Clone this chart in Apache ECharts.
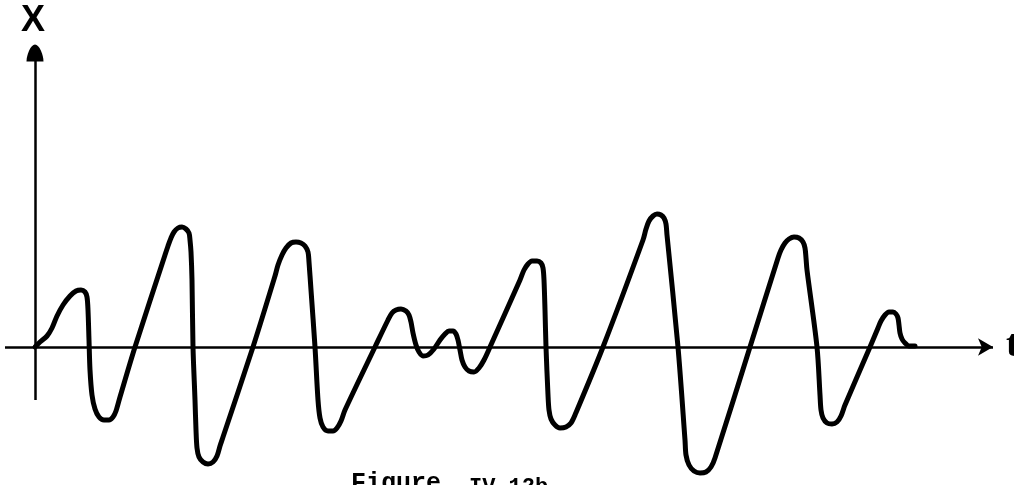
<!DOCTYPE html>
<html>
<head>
<meta charset="utf-8">
<script src="https://cdn.jsdelivr.net/npm/echarts@6/dist/echarts.min.js"></script>
<style>html,body{margin:0;padding:0;background:#fff;}#c{width:1014px;height:485px;}</style>
</head>
<body>
<div id="c"></div>
<script>
// time values (t) and signal values (x)
const tVals = [0,0.5,1.2,1.7,2.2,2.8,3.5,4.1,4.6,5.0,5.2,5.3,5.4,5.5,5.7,6.0,6.4,6.9,7.4,7.8,8.1,8.5,10.0,
  13.0,13.3,13.6,13.9,14.3,14.7,15.1,15.4,15.5,15.6,15.7,15.8,16.0,16.1,16.2,16.4,16.8,17.3,17.8,18.2,18.5,18.8,21.8,24.0,
  24.3,24.7,25.1,25.6,26.1,26.6,27.0,27.3,27.4,27.6,28.0,28.3,28.5,28.8,29.3,29.8,30.2,30.6,31.0,34.0,
  35.3,35.7,36.1,36.6,37.1,37.4,37.6,37.8,38.1,38.4,38.8,39.3,39.9,40.5,41.0,41.4,41.8,42.1,42.3,42.5,42.7,43.0,43.4,43.9,44.4,44.9,45.5,
  48.5,48.9,49.3,49.7,50.2,50.6,50.8,50.9,51.0,51.1,51.3,51.4,51.6,52.0,52.5,53.1,53.6,54.0,56.8,
  60.8,61.1,61.4,61.8,62.2,62.6,62.9,63.1,63.2,64.3,65.0,65.1,65.4,65.9,66.5,67.1,67.6,68.0,71.5,
  74.3,74.6,75.0,75.4,75.9,76.4,76.8,77.0,77.1,77.2,78.2,78.5,78.6,78.8,79.2,79.7,80.2,80.6,81.0,83.5,
  84.3,84.6,85.0,85.4,85.8,86.1,86.3,86.4,86.5,86.7,87.0,87.4,88.0];
const xVals = [0,0.5,1.1,1.9,3.1,4.2,5.1,5.6,5.7,5.5,5.0,3.7,0.7,-2.3,-4.8,-6.2,-7.0,-7.3,-7.3,-7.0,-6.4,-5.0,0,
  9.2,10.1,10.9,11.5,11.9,12.0,11.8,11.4,10.7,9.5,6.7,0,-5.3,-8.3,-10.1,-11.0,-11.5,-11.7,-11.5,-10.9,-9.9,-9.0,0,7.1,
  8.2,9.2,9.9,10.4,10.5,10.4,10.1,9.5,8.5,5.7,0,-5.3,-7.1,-8.0,-8.4,-8.4,-8.1,-7.4,-6.3,0,
  2.7,3.4,3.7,3.8,3.6,3.2,2.5,1.4,0.2,-0.5,-0.9,-0.8,-0.2,0.7,1.3,1.6,1.6,1.3,0.7,-0.3,-1.3,-2.0,-2.4,-2.5,-2.1,-1.3,0,
  6.7,7.7,8.3,8.6,8.6,8.4,7.9,6.7,3.7,0,-4.8,-6.3,-7.2,-7.8,-8.1,-8.0,-7.6,-6.8,0,
  10.7,11.8,12.6,13.1,13.3,13.2,12.9,12.3,11.2,0,-9.3,-10.8,-11.8,-12.4,-12.6,-12.5,-12.0,-11.1,0,
  8.9,9.7,10.4,10.8,11.0,10.9,10.5,9.9,8.9,7.7,0,-4.8,-6.3,-7.1,-7.6,-7.7,-7.5,-6.9,-5.8,0,
  1.9,2.6,3.2,3.5,3.5,3.3,2.9,2.2,1.4,0.8,0.4,0.1,0.1];
const axisLabelX = 'X';
const axisLabelT = 't';
const caption1 = 'Figure';
const caption2 = 'IV-12b';

const chart = echarts.init(document.getElementById('c'), null, {renderer: 'canvas'});
const data = tVals.map((t, i) => [t, xVals[i]]);
chart.setOption({
  backgroundColor: '#fff',
  animation: false,
  grid: {left: 0, right: 0, top: 0, bottom: 0},
  xAxis: {type: 'value', min: -3.5, max: 97.9, show: false},
  yAxis: {type: 'value', min: -13.8, max: 34.7, show: false},
  series: [{
    type: 'line',
    data: data,
    smooth: 0.3,
    showSymbol: false,
    lineStyle: {color: '#000', width: 5, cap: 'round', join: 'round'},
    markLine: {
      silent: true,
      animation: false,
      label: {show: false},
      lineStyle: {color: '#000', width: 2.5, type: 'solid'},
      data: [
        [{coord: [-3, 0], symbol: 'none'}, {coord: [95.8, 0], symbol: 'arrow', symbolSize: [13, 15]}],
        [{coord: [0, -5.3], symbol: 'none'}, {coord: [0, 29.4], symbol: 'path://M0,20 C0,12 5,0 10,0 C15,0 20,12 20,20 Z', symbolSize: [17, 17]}]
      ]
    }
  }],
  graphic: [
    {type: 'text', left: 21, top: 3, style: {text: axisLabelX, font: 'bold 36px "Liberation Sans"', fill: '#000'}},
    {type: 'text', left: 1006, top: 327, style: {text: axisLabelT, font: 'bold 38px "Liberation Serif"', fill: '#000'}},
    {type: 'text', left: 351, top: 471, style: {text: caption1, font: 'bold 25px "Liberation Mono"', fill: '#000'}},
    {type: 'text', left: 469, top: 476, style: {text: caption2, font: 'bold 22px "Liberation Mono"', fill: '#000'}}
  ]
});
</script>
</body>
</html>
